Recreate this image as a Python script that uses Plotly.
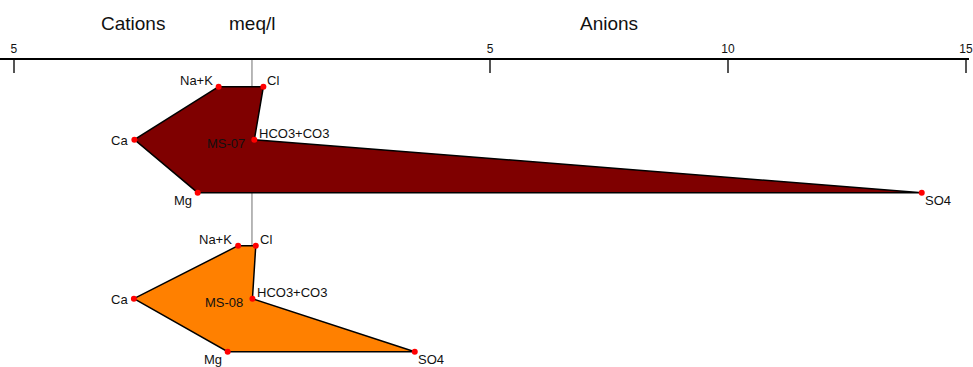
import plotly.graph_objects as go

# ---- data (meq/l) ----
cation_names = ["Na+K", "Ca", "Mg"]
anion_names = ["Cl", "HCO3+CO3", "SO4"]
samples = ["MS-07", "MS-08"]
ms07_cations = [0.70, 2.47, 1.14]
ms07_anions = [0.24, 0.05, 14.07]
ms08_cations = [0.29, 2.48, 0.51]
ms08_anions = [0.08, 0.01, 3.42]
fill_colors = ["#7f0000", "#ff8000"]
tick_vals = [-5, 5, 10, 15]
tick_text = ["5", "5", "10", "15"]

cations = [ms07_cations, ms08_cations]
anions = [ms07_anions, ms08_anions]

FONT = "Liberation Sans, Arial, sans-serif"
W, H = 973, 367
PX_PER_UNIT = 47.8
X0_PX = 253
ROW_PX = 53
ROW0_PX = 86.7
TOP_PX = 60
PLOT_H = H - TOP_PX

x_range = [-X0_PX / PX_PER_UNIT, (W - X0_PX) / PX_PER_UNIT]
y_range = [(H - ROW0_PX) / ROW_PX, (TOP_PX - ROW0_PX) / ROW_PX]

fig = go.Figure()

# label placement per row: (xanchor, yanchor, xshift, yshift)
cat_place = [("right", "bottom", -4, -3), ("right", "middle", -4, -1), ("right", "top", -4, 2)]
an_place = [("left", "bottom", 2, -3), ("left", "bottom", 3, -3), ("left", "top", 1, 2)]
lab_font = dict(family=FONT, size=13, color="#111")

for i, name in enumerate(samples):
    rows = [i * 3 + r for r in range(3)]
    cx = [-v for v in cations[i]]
    ax = anions[i]
    # polygon: Na+K, Ca, Mg, SO4, HCO3, Cl, back
    px = cx + ax[::-1] + [cx[0]]
    py = rows + rows[::-1] + [rows[0]]
    fig.add_trace(go.Scatter(
        x=px, y=py, mode="lines", fill="toself", fillcolor=fill_colors[i],
        line=dict(color="black", width=1.5), hoverinfo="skip", showlegend=False))
    fig.add_trace(go.Scatter(
        x=cx + ax, y=rows + rows, mode="markers",
        marker=dict(color="#ff0000", size=6), hoverinfo="skip",
        showlegend=False, cliponaxis=False))
    for r in range(3):
        xa, ya, xs, ys = cat_place[r]
        fig.add_annotation(x=cx[r], y=rows[r], text=cation_names[r], showarrow=False,
                           xanchor=xa, yanchor=ya, xshift=xs, yshift=ys, font=lab_font)
        xa, ya, xs, ys = an_place[r]
        fig.add_annotation(x=ax[r], y=rows[r], text=anion_names[r], showarrow=False,
                           xanchor=xa, yanchor=ya, xshift=xs, yshift=ys, font=lab_font)
    fig.add_annotation(x=ax[1], y=rows[1], text=name, showarrow=False,
                       xanchor="right", yanchor="middle", xshift=-7, yshift=-4,
                       font=lab_font)

# central vertical line
fig.add_shape(type="line", xref="x", yref="y", x0=0, x1=0,
              y0=(33 - ROW0_PX) / ROW_PX, y1=5, layer="below",
              line=dict(color="#a0a0a0", width=1.5))

title_y = (H - 24) / PLOT_H
for txt, xv in [("Cations", -2.5), ("meq/l", 0), ("Anions", 7.5)]:
    fig.add_annotation(x=xv, y=title_y, xref="x", yref="paper", text=txt, showarrow=False,
                       xanchor="center", yanchor="middle",
                       font=dict(family=FONT, size=19, color="#111"))

fig.update_layout(
    width=W, height=H, margin=dict(l=0, r=0, t=TOP_PX, b=0),
    paper_bgcolor="white", plot_bgcolor="white",
    xaxis=dict(range=x_range, side="top", showline=True, linecolor="black", linewidth=1.5,
               ticks="inside", ticklen=13, tickwidth=2, tickcolor="#555",
               tickvals=tick_vals, ticktext=tick_text, showgrid=False, zeroline=False,
               ticklabeloverflow="allow",
               tickfont=dict(family=FONT, size=12, color="#111")),
    yaxis=dict(range=y_range, visible=False, showgrid=False, zeroline=False),
)

fig.write_html("out.html", config={"displayModeBar": False},
               post_script="document.body.style.margin='0';document.body.style.overflow='hidden';")
